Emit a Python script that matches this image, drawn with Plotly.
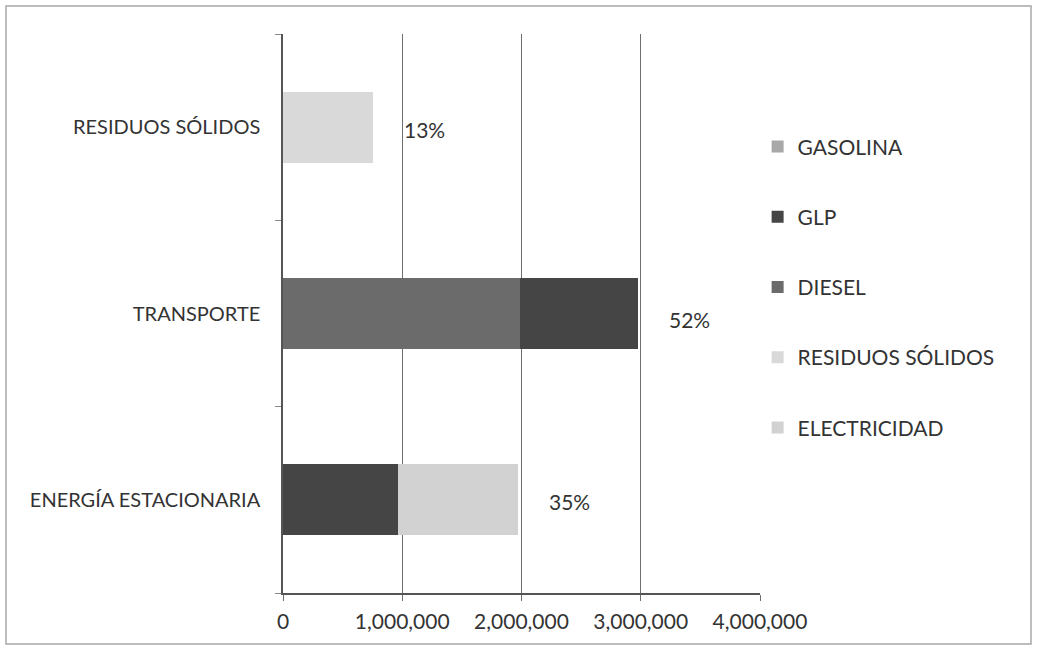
import plotly.graph_objects as go

categories = ["ENERGÍA ESTACIONARIA", "TRANSPORTE", "RESIDUOS SÓLIDOS"]
series_names = ["DIESEL", "GLP", "ELECTRICIDAD", "RESIDUOS SÓLIDOS", "GASOLINA"]
diesel = [0, 1990000, 0]
glp = [965000, 990000, 0]
electricidad = [1005000, 0, 0]
residuos = [0, 0, 755000]
gasolina = [0, 0, 0]
pct_labels = ["35%", "52%", "13%"]
x_ticks = [0, 1000000, 2000000, 3000000, 4000000]
x_tick_text = ["0", "1,000,000", "2,000,000", "3,000,000", "4,000,000"]

series_values = [diesel, glp, electricidad, residuos, gasolina]
colors = {"DIESEL": "#6b6b6b", "GLP": "#454545", "ELECTRICIDAD": "#d2d2d2",
          "RESIDUOS SÓLIDOS": "#d9d9d9", "GASOLINA": "#a8a8a8"}
legend_rank = {"GASOLINA": 1, "GLP": 2, "DIESEL": 3, "RESIDUOS SÓLIDOS": 4, "ELECTRICIDAD": 5}

FONT = "Lato"
TXT = "#333333"
fig = go.Figure()
for name, vals in zip(series_names, series_values):
    fig.add_trace(go.Bar(
        y=categories, x=vals, name=name, orientation="h",
        marker=dict(color=colors[name], line=dict(width=0)),
        legendrank=legend_rank[name], legendgroup=name,
    ))

totals = [sum(v[i] for v in series_values) for i in range(len(categories))]
label_yshift = [-2, -6, -2]
for cat, tot, lab, ys in zip(categories, totals, pct_labels, label_yshift):
    fig.add_annotation(x=tot, y=cat, text=lab, showarrow=False, xanchor="left",
                       xshift=29, yshift=ys, font=dict(family=FONT, size=21, color=TXT))

# outer chart frame
fig.add_shape(type="rect", xref="paper", yref="paper",
              x0=(6 - 283) / 477, x1=(1031 - 283) / 477,
              y0=1 - (644 - 34) / 559, y1=1 - (6 - 34) / 559,
              line=dict(color="#a8a8a8", width=1.5))

fig.update_layout(
    width=1037, height=649,
    margin=dict(l=283, r=277, t=34, b=56, autoexpand=False),
    barmode="stack", bargap=0.62,
    plot_bgcolor="white", paper_bgcolor="white",
    font=dict(family=FONT, size=20, color=TXT),
    showlegend=True,
    legend=dict(x=0.995, y=0.835, xanchor="left", yanchor="top",
                traceorder="grouped", tracegroupgap=40,
                font=dict(family=FONT, size=21, color=TXT),
                itemwidth=30, bgcolor="rgba(0,0,0,0)"),
    xaxis=dict(range=[0, 4000000], tickvals=x_ticks, ticktext=x_tick_text,
               tickfont=dict(size=21),
               showgrid=True, gridcolor="#6e6e6e", gridwidth=1,
               showline=True, linecolor="#555555", linewidth=1.5,
               ticks="outside", ticklen=6, tickcolor="#6e6e6e",
               ticklabelstandoff=3, zeroline=False),
    yaxis=dict(range=[-0.5, 2.5], categoryorder="array", categoryarray=categories,
               showline=True, linecolor="#555555", linewidth=1.5,
               ticks="outside", tickson="boundaries", ticklen=6, tickcolor="#888888",
               ticklabelstandoff=17, showgrid=False),
)

fig.write_html("out.html", config={"displayModeBar": False},
               post_script="document.body.style.margin='0';document.body.style.overflow='hidden';")
